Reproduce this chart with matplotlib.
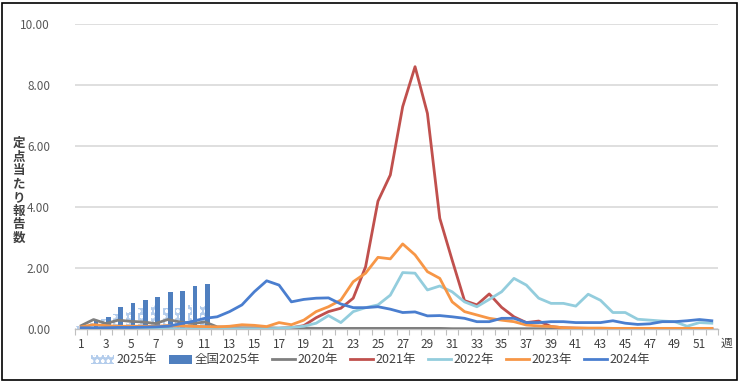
import numpy as np
import matplotlib
matplotlib.use("Agg")
import matplotlib.pyplot as plt
from matplotlib.patches import Rectangle

plt.rcParams['font.family'] = ['Noto Sans CJK JP', 'DejaVu Sans']
plt.rcParams['hatch.linewidth'] = 0.8

# data
weeks = np.arange(1, 53)
bar_weeks = np.arange(1, 12)
pref_2025 = [0.12, 0.22, 0.35, 0.49, 0.57, 0.71, 0.79, 0.71, 0.71, 0.79, 0.75]
nat_2025 = [0.10, 0.32, 0.40, 0.73, 0.86, 0.95, 1.06, 1.21, 1.27, 1.42, 1.48]

y2020 = [0.12, 0.32, 0.19, 0.30, 0.26, 0.24, 0.19, 0.32, 0.24, 0.19, 0.24, 0.08,
         0.06, 0.05, 0.05, 0.05, 0.04, 0.04, 0.04, 0.03, 0.03, 0.03, 0.03, 0.03,
         0.03, 0.03, 0.03, 0.03, 0.03, 0.03, 0.02, 0.02, 0.02, 0.02, 0.02, 0.02,
         0.02, 0.02, 0.02, 0.02, 0.02, 0.02, 0.02, 0.02, 0.02, 0.02, 0.02, 0.02,
         0.02, 0.02, 0.02, 0.02]
y2021 = [0.02, 0.02, 0.02, 0.02, 0.02, 0.02, 0.02, 0.02, 0.02, 0.02, 0.02, 0.02,
         0.02, 0.02, 0.02, 0.02, 0.03, 0.05, 0.12, 0.38, 0.58, 0.69, 1.02, 2.05,
         4.20, 5.06, 7.30, 8.61, 7.08, 3.64, 2.27, 0.94, 0.80, 1.16, 0.72, 0.41,
         0.22, 0.27, 0.09, 0.05, 0.04, 0.03, 0.03, 0.03, 0.03, 0.03, 0.03, 0.03,
         0.03, 0.03, 0.03, 0.03]
y2022 = [0.02, 0.02, 0.02, 0.02, 0.02, 0.02, 0.02, 0.02, 0.02, 0.02, 0.02, 0.02,
         0.02, 0.02, 0.02, 0.02, 0.03, 0.06, 0.10, 0.20, 0.45, 0.22, 0.58, 0.71,
         0.80, 1.12, 1.86, 1.84, 1.29, 1.42, 1.23, 0.90, 0.74, 0.98, 1.23, 1.67,
         1.45, 1.02, 0.85, 0.85, 0.76, 1.15, 0.95, 0.55, 0.55, 0.33, 0.30, 0.27,
         0.25, 0.10, 0.22, 0.20]
y2023 = [0.08, 0.15, 0.12, 0.10, 0.10, 0.10, 0.10, 0.12, 0.12, 0.10, 0.09, 0.08,
         0.10, 0.15, 0.13, 0.09, 0.22, 0.15, 0.30, 0.58, 0.74, 0.96, 1.56, 1.84,
         2.36, 2.31, 2.80, 2.44, 1.89, 1.67, 0.90, 0.58, 0.47, 0.36, 0.30, 0.25,
         0.14, 0.11, 0.09, 0.05, 0.04, 0.04, 0.04, 0.03, 0.03, 0.03, 0.03, 0.03,
         0.03, 0.03, 0.03, 0.03]
y2024 = [0.05, 0.05, 0.05, 0.06, 0.06, 0.07, 0.08, 0.10, 0.18, 0.26, 0.36, 0.41,
         0.58, 0.80, 1.23, 1.59, 1.45, 0.90, 0.98, 1.02, 1.03, 0.83, 0.71, 0.71,
         0.74, 0.66, 0.55, 0.57, 0.44, 0.45, 0.41, 0.36, 0.25, 0.25, 0.36, 0.36,
         0.22, 0.22, 0.25, 0.25, 0.22, 0.22, 0.22, 0.28, 0.20, 0.16, 0.18, 0.25,
         0.25, 0.28, 0.32, 0.28]

years = ["2020年", "2021年", "2022年", "2023年", "2024年"]
series = [y2020, y2021, y2022, y2023, y2024]
colors = ["#7F7F7F", "#C0504D", "#93CDDD", "#F79646", "#4A7ECF"]

fig = plt.figure(figsize=(7.41, 3.82), dpi=100)
ax = fig.add_axes([75/741, 1-329.3/382, 643/741, 305/382])

# bars
b1 = ax.bar(bar_weeks - 0.2, pref_2025, width=0.38, facecolor="#B4CDEC",
            edgecolor="white", hatch="ooo", linewidth=0, label="2025年", zorder=2)
b2 = ax.bar(bar_weeks + 0.2, nat_2025, width=0.38, color="#4F7FBF",
            label="全国2025年", zorder=2)

# lines
handles = [b1, b2]
for name, vals, c in zip(years, series, colors):
    ln, = ax.plot(weeks, vals, color=c, linewidth=2.0, label=name, zorder=3,
                  solid_joinstyle="round")
    handles.append(ln)

ax.set_xlim(0.5, 52.5)
ax.set_ylim(0, 10)
ax.set_yticks(np.arange(0, 11, 2))
ax.set_yticklabels([f"{v:.2f}" for v in np.arange(0, 11, 2)])
ax.set_xticks(np.arange(1, 52, 2))
ax.set_xticks(np.arange(0.5, 53, 1), minor=True)
ax.tick_params(axis="x", which="major", length=0, labelsize=8.5,
               labelcolor="#404040", pad=6)
ax.tick_params(axis="x", which="minor", length=4, color="#BFBFBF", width=0.8)
ax.tick_params(axis="y", length=0, labelsize=8.5, labelcolor="#595959", pad=18)
ax.grid(axis="y", color="#D9D9D9", linewidth=1.2, zorder=0)
ax.set_axisbelow(True)
for s in ["top", "right", "left"]:
    ax.spines[s].set_visible(False)
ax.spines["bottom"].set_color("#BFBFBF")
ax.spines["bottom"].set_linewidth(1.0)

# y label as stacked characters
fig.text(19/741, 1-191/382, "\n".join("定点当たり報告数"), ha="center", va="center",
         fontsize=9, fontweight="bold", color="#404040", linespacing=1.05)
fig.text(726/741, 1-343/382, "週", ha="center", va="center", fontsize=8.5,
         color="#404040")

fig.legend(handles=handles, loc="center", bbox_to_anchor=(0.5, 1-360/382), ncol=7,
           frameon=False, fontsize=9, handlelength=1.8, handletextpad=0.2,
           columnspacing=1.0, labelcolor="#404040", borderpad=0.1)

fig.patches.append(Rectangle((2/741, 2/382), 735/741, 377/382, transform=fig.transFigure,
                             fill=False, edgecolor="black", linewidth=1.2))

fig.savefig("out.png", dpi=100)
